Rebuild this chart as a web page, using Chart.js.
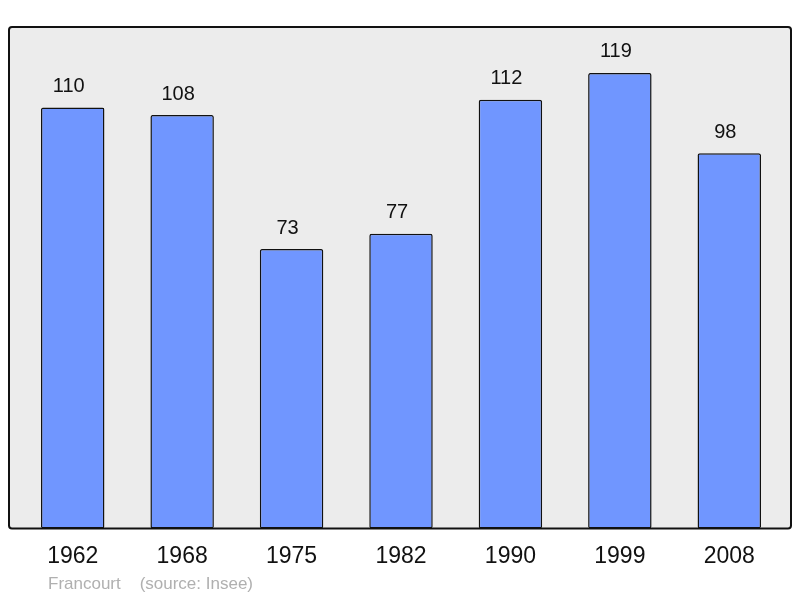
<!DOCTYPE html>
<html>
<head>
<meta charset="utf-8">
<script src="https://cdn.jsdelivr.net/npm/chart.js@4"></script>
<style>
  body { margin: 0; background: #fff; }
  #wrap { width: 800px; height: 598px; }
</style>
</head>
<body>
<div id="wrap"><canvas id="popChart" width="800" height="598"></canvas></div>
<script>
// population figures for the commune
const years = ['1962', '1968', '1975', '1982', '1990', '1999', '2008'];
const population = [110, 108, 73, 77, 112, 119, 98];
const yMax = 131;
const sourceText = 'Francourt    (source: Insee)';

// grey frame behind the bars
const framePlugin = {
    id: 'frame',
    beforeDatasetsDraw(chart) {
        const a = chart.chartArea;
        const ctx = chart.ctx;
        ctx.save();
        ctx.beginPath();
        ctx.roundRect(a.left - 9, a.top, a.width + 16, a.height, 3);
        ctx.fillStyle = '#ececec';
        ctx.fill();
        ctx.lineWidth = 2;
        ctx.strokeStyle = '#111';
        ctx.stroke();
        ctx.restore();
    }
};

// value labels above each bar + source line
const labelPlugin = {
    id: 'valueLabels',
    afterDatasetsDraw(chart) {
        const ctx = chart.ctx;
        const meta = chart.getDatasetMeta(0);
        ctx.save();
        ctx.fillStyle = '#111';
        ctx.font = '20px "Liberation Sans", Arial, sans-serif';
        ctx.textAlign = 'center';
        ctx.textBaseline = 'middle';
        meta.data.forEach((bar, i) => {
            ctx.fillText(population[i], bar.x - 4, bar.y - 21);
        });
        ctx.fillStyle = '#b0b0b0';
        ctx.font = '17px "Liberation Sans", Arial, sans-serif';
        ctx.textAlign = 'left';
        ctx.fillText(sourceText, 48, 584);
        ctx.restore();
    }
};

const popChart = new Chart('popChart', {
    type: 'bar',
    data: {
        labels: years,
        datasets: [{
            data: population,
            backgroundColor: '#7096ff',
            borderColor: '#111',
            borderWidth: 1.5,
            borderRadius: 2,
            borderSkipped: false,
            barPercentage: 0.58,
            categoryPercentage: 1
        }]
    },
    options: {
        responsive: false,
        animation: false,
        layout: { padding: { left: 18, right: 16, top: 27, bottom: 14 } },
        plugins: {
            legend: { display: false },
            tooltip: { enabled: false }
        },
        scales: {
            x: {
                grid: { display: false, drawTicks: false },
                border: { display: false },
                ticks: {
                    color: '#111',
                    padding: 14,
                    font: { family: '"Liberation Sans", Arial, sans-serif', size: 23 }
                }
            },
            y: {
                display: false,
                min: 0,
                max: yMax
            }
        }
    },
    plugins: [framePlugin, labelPlugin]
});
</script>
</body>
</html>
